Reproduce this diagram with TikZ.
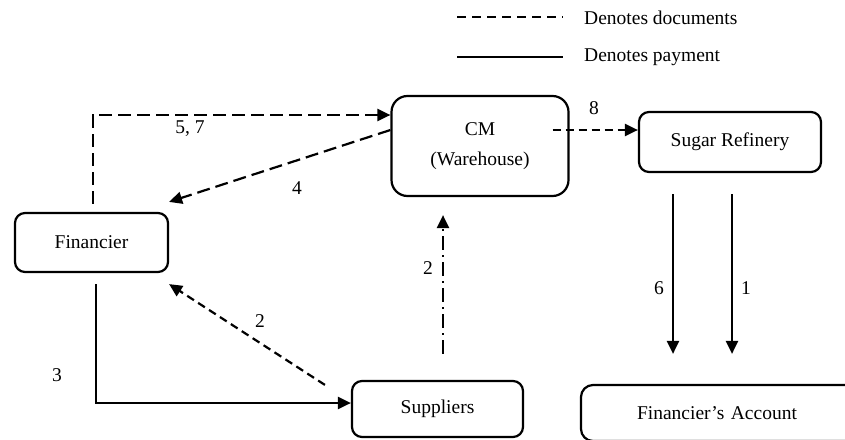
\documentclass[tikz,border=0pt]{standalone}
\usepackage{fontspec}
\setmainfont{Liberation Serif}
\usetikzlibrary{arrows.meta,calc}
\begin{document}
\begin{tikzpicture}[x=1pt,y=-1pt,
  font=\fontsize{19.5}{23}\selectfont,
  box/.style={draw,line width=2.2pt,rounded corners=13pt,align=center,inner sep=0pt},
  conn/.style={line width=2.2pt,-{Triangle[length=13pt,width=12pt]}},
  longdash/.style={dash pattern=on 13pt off 6pt},
  shortdash/.style={dash pattern=on 8pt off 5pt},
  dashdot/.style={dash pattern=on 14pt off 5pt on 2pt off 5pt},
  lab/.style={inner sep=0pt}]
\useasboundingbox (0,0) rectangle (845,439);
\clip (0,0) rectangle (845,439);
\fill[white] (0,0) rectangle (845,439);

% nodes
\node[box,minimum width=177pt,minimum height=100pt,rounded corners=16pt] (CM) at (480,146) {CM\\[7pt](Warehouse)};
\node[box,minimum width=182pt,minimum height=60pt,rounded corners=10pt] (SR) at (730,142) {Sugar Refinery};
\node[box,minimum width=153pt,minimum height=59pt,rounded corners=10pt] (Fin) at (91.5,242.5) {Financier};
\node[box,minimum width=171pt,minimum height=56pt,rounded corners=10pt] (Sup) at (437.5,409) {Suppliers};
\node[box,minimum width=300pt,minimum height=56pt,rounded corners=12pt,
      text width=300pt,align=left] (FA) at (731,413) {\hspace*{56pt}Financier’s Account};

% legend
\coordinate (ld1) at (457,17); \coordinate (ld2) at (563,17);
\coordinate (lp1) at (457,57); \coordinate (lp2) at (563,57);
\draw[line width=2.2pt,dash pattern=on 9pt off 6pt] (ld1) -- (ld2);
\draw[line width=2.2pt] (lp1) -- (lp2);
\node[lab,anchor=west] (legd) at (584,18) {Denotes documents};
\node[lab,anchor=west] (legp) at (584,57) {Denotes payment};

% 5,7
\draw[conn,longdash] ([xshift=1.5pt,yshift=8pt]Fin.north) |- ([yshift=31pt]CM.west);
\node[lab] (l57) at (190,129) {5, 7};
% 4
\draw[conn,longdash] ([yshift=16pt]CM.west) -- ([yshift=10pt]Fin.north east);
\node[lab] (l4) at (297,188) {4};
% 8
\draw[conn,shortdash] ([xshift=-17pt,yshift=16pt]CM.east) -- ([yshift=12pt]SR.west);
\node[lab] (l8) at (594,108) {8};
% 2 dashed
\draw[conn,shortdash] ([xshift=-26pt,yshift=-5pt]Sup.north west) -- ([yshift=-11pt]Fin.south east);
\node[lab] (l2a) at (260,321) {2};
% 2 dash-dot
\coordinate (dds) at ([xshift=5.5pt,yshift=26pt]Sup.north);
\path (dds |- CM.south) coordinate (ddt);
\draw[conn,dashdot] (dds) -- ([yshift=-18pt]ddt);
\node[lab] (l2b) at (428,268) {2};
% 3 payment
\draw[conn] ([xshift=4.5pt,yshift=-11pt]Fin.south) |- ([yshift=6pt]Sup.west);
\node[lab] (l3) at (57,375) {3};
% 6 and 1
\coordinate (s6) at ([xshift=-57pt,yshift=-21pt]SR.south);
\coordinate (s1) at ([xshift=2pt,yshift=-21pt]SR.south);
\path (s6 |- FA.north) coordinate (e6);
\path (s1 |- FA.north) coordinate (e1);
\draw[conn] (s6) -- ([yshift=30pt]e6);
\draw[conn] (s1) -- ([yshift=30pt]e1);
\node[lab] (l6) at (659,288) {6};
\node[lab] (l1) at (746,288) {1};
\end{tikzpicture}
\end{document}
